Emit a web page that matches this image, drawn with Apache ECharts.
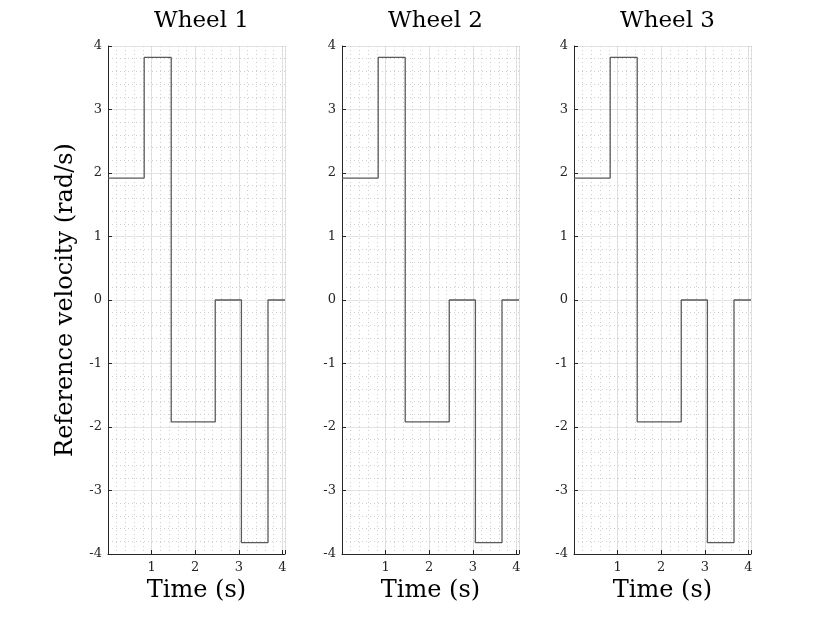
<!DOCTYPE html>
<html>
<head>
<meta charset="utf-8">
<title>Reference velocity per wheel</title>
<script src="https://cdn.jsdelivr.net/npm/echarts@6/dist/echarts.min.js"></script>
<style>
  html, body { margin: 0; padding: 0; background: #fff; }
  #chart { width: 830px; height: 623px; }
</style>
</head>
<body>
<div id="chart"></div>
<script>
// step breakpoints (s) and the level that starts at each one (rad/s)
const wheelNames = ['Wheel 1', 'Wheel 2', 'Wheel 3'];
const stepTimes = [0, 0.83, 1.45, 2.46, 3.06, 3.67, 4.06];
const wheel1 = [1.92, 3.82, -1.92, 0, -3.82, 0, 0];
const wheel2 = [1.92, 3.82, -1.92, 0, -3.82, 0, 0];
const wheel3 = [1.92, 3.82, -1.92, 0, -3.82, 0, 0];
const wheels = [wheel1, wheel2, wheel3];
const xMajorTicks = [1, 2, 3, 4];

const font = 'DejaVu Serif';
const ink = '#262626';
const panelLeft = [108, 342, 574];
const panelWidth = 177;

let chart = echarts.init(document.getElementById('chart'));

let grids = [], xAxes = [], yAxes = [], series = [], titles = [];

wheels.forEach((levels, i) => {
    grids.push({ left: panelLeft[i], top: 46, width: panelWidth, height: 508 });

    titles.push({
        text: wheelNames[i],
        left: panelLeft[i] + panelWidth / 2,
        top: 5,
        textAlign: 'center',
        textStyle: { fontFamily: font, fontSize: 23, fontWeight: 'normal', color: '#000' }
    });

    // main x axis: line, ticks, labels, major grid
    xAxes.push({
        type: 'value', gridIndex: i, min: 0, max: 4.06, interval: 1,
        name: 'Time (s)', nameLocation: 'middle', nameGap: 25,
        nameTextStyle: { fontFamily: font, fontSize: 24, color: '#000' },
        axisLine: { show: true, onZero: false, lineStyle: { color: ink, width: 1 } },
        axisTick: { show: true, inside: true, length: 4, lineStyle: { color: ink } },
        axisLabel: {
            fontFamily: font, fontSize: 13, color: ink, margin: 7,
            formatter: v => xMajorTicks.indexOf(v) >= 0 ? String(v) : ''
        },
        splitLine: { show: true, lineStyle: { color: '#e3e3e3', width: 1 } }
    });
    // hidden x axis only for the dotted minor grid (0.2 s)
    xAxes.push({
        type: 'value', gridIndex: i, min: 0, max: 4.06, interval: 0.2,
        axisLine: { show: false }, axisTick: { show: false }, axisLabel: { show: false },
        splitLine: { show: true, lineStyle: { color: '#cfcfcf', width: 1, type: [1, 3] } }
    });

    yAxes.push({
        type: 'value', gridIndex: i, min: -4, max: 4, interval: 1,
        name: i === 0 ? 'Reference velocity (rad/s)' : '',
        nameLocation: 'middle', nameGap: 30,
        nameTextStyle: { fontFamily: font, fontSize: 24, color: '#000' },
        axisLine: { show: true, onZero: false, lineStyle: { color: ink, width: 1 } },
        axisTick: { show: true, inside: true, length: 4, lineStyle: { color: ink } },
        axisLabel: { fontFamily: font, fontSize: 13, color: ink, margin: 6 },
        splitLine: { show: true, lineStyle: { color: '#e3e3e3', width: 1 } },
        minorTick: { show: false, splitNumber: 5 },
        minorSplitLine: { show: true, lineStyle: { color: '#cfcfcf', width: 1, type: [1, 3] } }
    });

    series.push({
        type: 'line', xAxisIndex: i * 2, yAxisIndex: i,
        step: 'end', symbol: 'none', silent: true,
        lineStyle: { color: '#5a5a5a', width: 1.3 },
        data: stepTimes.map((t, k) => [t, levels[k]])
    });
});

chart.setOption({
    animation: false,
    backgroundColor: '#fff',
    title: titles,
    grid: grids,
    xAxis: xAxes,
    yAxis: yAxes,
    series: series
});
</script>
</body>
</html>
